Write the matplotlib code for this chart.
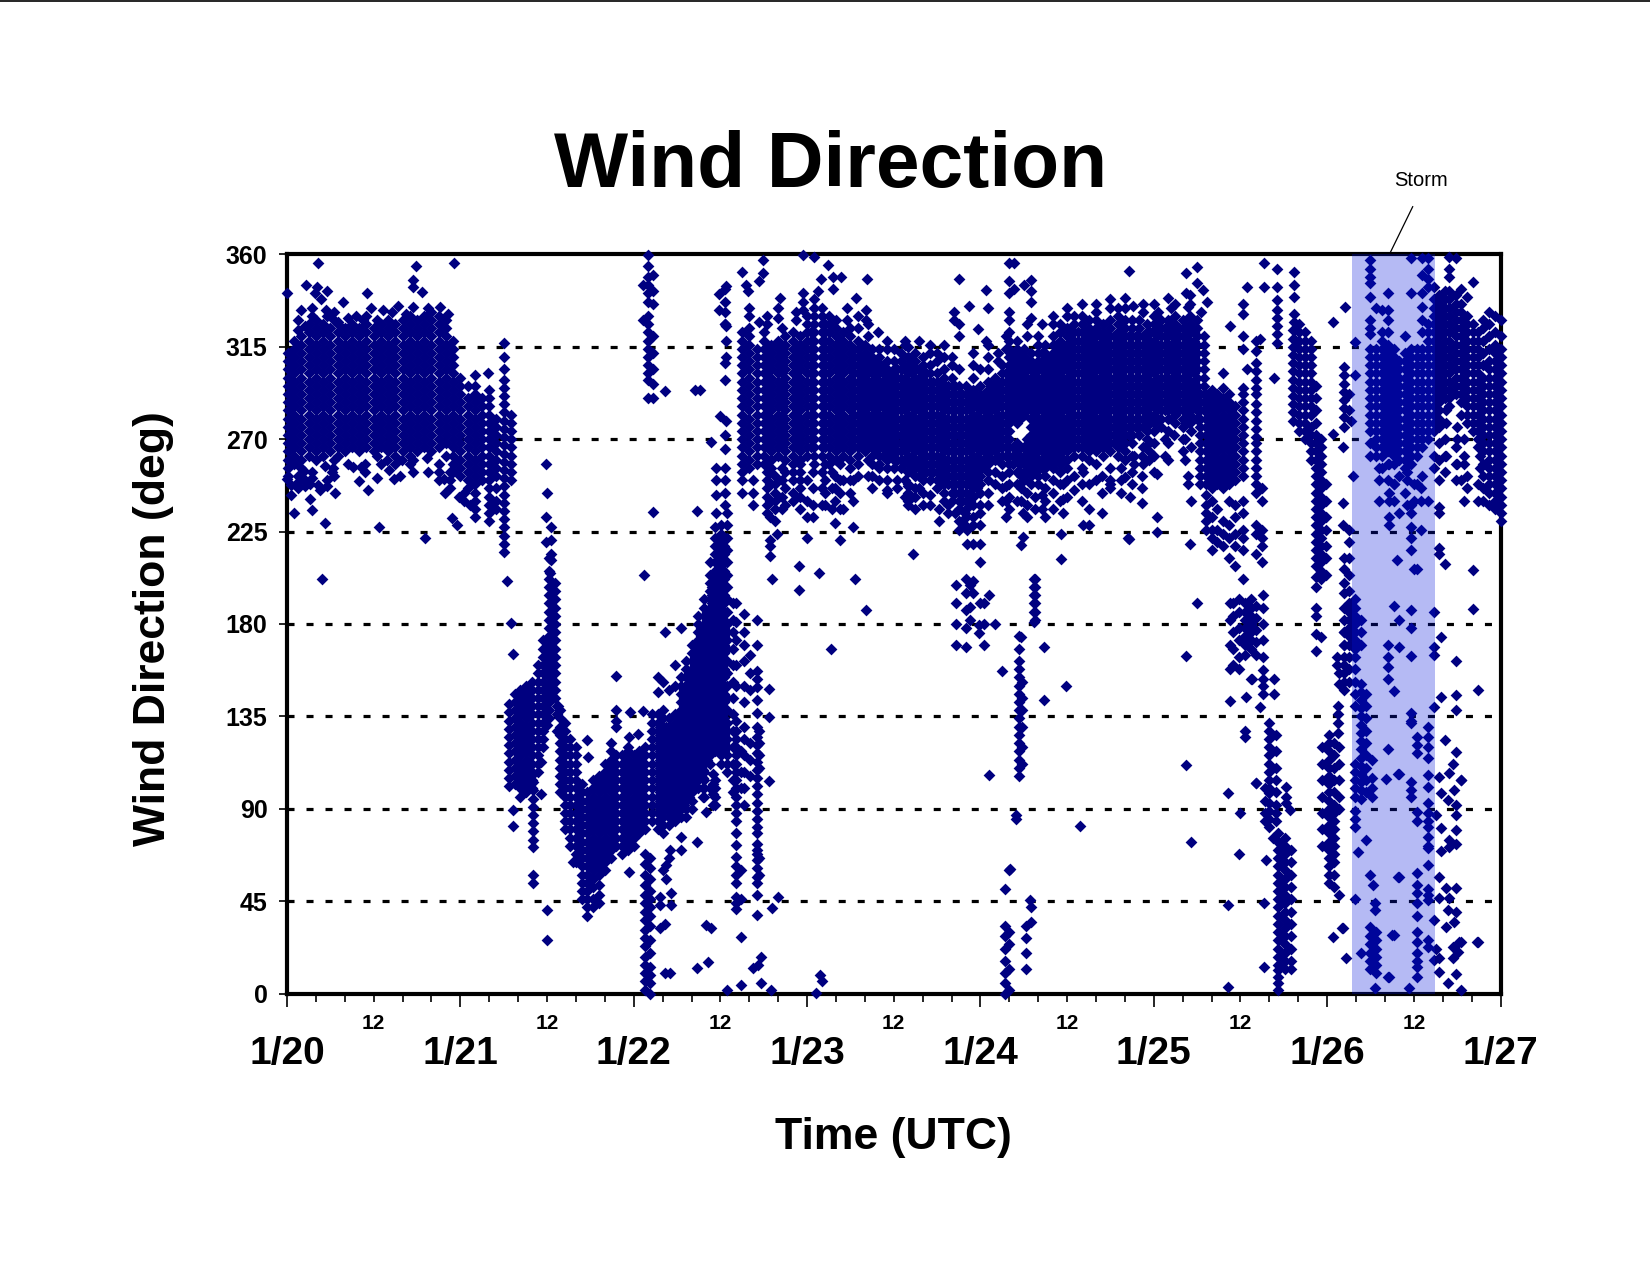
import matplotlib
matplotlib.use("Agg")
import matplotlib.pyplot as plt
from matplotlib.lines import Line2D

plt.rcParams['font.family'] = ['Liberation Sans', 'DejaVu Sans']

W, H = 1650, 1275

# every row: (hours after 1/20 00 UTC, [wind directions in degrees read at that time])
core_jan20 = [
 (0.2,[252,256,260,264,268,272,276,280,284,288,292,296,300,304,308,312]),
 (1,[258,262,266,270,274,278,282,286,290,294,298,302,306,310,314,318]),
 (2,[256,260,264,268,272,276,280,284,288,292,296,300,304,308,312,316,320]),
 (3,[262,266,270,274,278,282,286,290,294,298,302,306,310,314,318,322,326]),
 (4,[260,264,268,272,276,280,284,288,292,296,300,304,308,312,316,320,324,328]),
 (5,[262,266,270,274,278,282,286,290,294,298,302,306,310,314,318,322,326]),
 (6,[264,268,272,276,280,284,288,292,296,300,304,308,312,316,320,324]),
 (7,[262,266,270,274,278,282,286,290,294,298,302,306,310,314,318,322,326]),
 (8,[264,268,272,276,280,284,288,292,296,300,304,308,312,316,320,324]),
 (9,[266,270,274,278,282,286,290,294,298,302,306,310,314,318,322,326]),
 (10,[264,268,272,276,280,284,288,292,296,300,304,308,312,316,320,324]),
 (11,[266,270,274,278,282,286,290,294,298,302,306,310,314,318,322,326,330]),
 (12,[264,268,272,276,280,284,288,292,296,300,304,308,312,316,320,324]),
 (13,[266,270,274,278,282,286,290,294,298,302,306,310,314,318,322,326]),
 (14,[264,268,272,276,280,284,288,292,296,300,304,308,312,316,320,324,328]),
 (15,[266,270,274,278,282,286,290,294,298,302,306,310,314,318,322,326]),
 (16,[264,268,272,276,280,284,288,292,296,300,304,308,312,316,320,324,328]),
 (17,[262,266,270,274,278,282,286,290,294,298,302,306,310,314,318,322,326,330]),
 (18,[264,268,272,276,280,284,288,292,296,300,304,308,312,316,320,324,328]),
 (19,[266,270,274,278,282,286,290,294,298,302,306,310,314,318,322,326,330]),
 (20,[264,268,272,276,280,284,288,292,296,300,304,308,312,316,320,324,328,332]),
 (21,[266,270,274,278,282,286,290,294,298,302,306,310,314,318,322,326,330]),
 (22,[262,268,272,276,280,284,288,292,296,300,304,308,312,316,320,324,328]),
 (23,[254,258,262,266,270,274,278,282,286,290,294,298,302,306,310,314,318]),
 (24,[252,256,260,264,268,272,276,280,284,288,292,296,300]),
 (25,[246,250,254,258,262,266,270,274,278,282,286,290,296]),
 (26,[232,236,240,244,248,252,256,260,264,268,272,276,280,284,288,292,296,301]),
 (27,[250,254,258,262,266,270,274,278,282,286,290]),
 (28,[230,234,238,242,246,250,254,258,262,266,270,274,278,282,286,290,294]),
 (29,[236,240,246,252,256,260,264,268,272,276,280]),
 (30,[215,219,223,227,231,235,239,243,247,251,255,259,263,267,271,275,279,283,287,291,295,299,304]),
 (31,[250,254,258,262,266,270,274,278,282]),
]
stray_jan20 = [
 (4.3,[356]),(17.8,[354.5]),(23.1,[356]),(0,[341,250.4]),(2.6,[345]),(4.2,[344]),(3.9,[341]),(5.5,[342]),(4.7,[338]),
 (1.9,[333]),(7.7,[337]),(11.1,[341]),(17.5,[347.5,344,334.5]),(18.7,[341.5]),(9.6,[330]),(11.6,[334]),(13.3,[333]),
 (15.3,[335]),(21.2,[334.5]),(22.3,[331]),(5.4,[333]),(7.1,[327]),(2.3,[254.7]),(0.6,[247.7,243]),(3.2,[248,240.7]),
 (4.3,[247.7]),(4.5,[245]),(6.6,[244]),(3.4,[235.5]),(0.9,[234]),(5.3,[229,257]),(12.8,[227]),(19.1,[221.7]),(4.8,[202]),
 (11.2,[245]),(9.9,[249.8]),(12.5,[251,262]),(14.8,[250.6]),(15.7,[252]),(9.2,[256.6]),(10.2,[256.6]),(13.8,[265.5]),
 (13.9,[260]),(14.1,[255]),(15.9,[260]),(17,[258]),(19.4,[260.7]),(21.8,[250.6]),(21.9,[243.6]),(23.8,[242]),(22.8,[231.4]),
 (23.5,[228]),(6.4,[256]),(6.2,[254]),(30,[316.7,310]),(27.8,[302]),(30.4,[201]),(31,[180.3]),(28.2,[238]),(25.4,[238]),
]
edge_jan20 = [
 (1.5,[323,328,252,249,246]),(2.5,[325,250,247]),(3.5,[330,334,254,251]),(6.5,[328,332,260,252]),(8.5,[329,258]),
 (12.5,[328]),(14.5,[332]),(16.5,[331]),(19.5,[334,254]),(5.5,[330,250,247]),(10.5,[328]),(10.8,[258,254]),(13,[258]),
 (15,[258,262]),(17.5,[254,260]),(21,[258,254,250]),(22.5,[250,254,246]),(24.5,[244,240]),
]
clouds_jan21 = [
 (30.7,[101,105,109,113,117,121,125,129,133,137,141]),
 (31.5,[102,106,110,114,118,122,126,130,134,138,142,146]),
 (32.3,[96,100,104,108,112,116,120,124,128,132,136,140,144,148]),
 (33.1,[98,102,106,110,114,118,122,126,130,134,138,142,146,150]),
 (33.9,[100,104,108,112,116,120,124,128,132,136,140,144,148,152]),
 (34.7,[108,112,116,120,124,128,132,136,140,144,148,152,156,160]),
 (35.5,[120,124,128,132,136,140,144,148,152,156,160,164,168,172]),
 (36.3,[134,138,142,146,150,154,158,162,166,170,174,178,182,186,190,194,198,202,206,212]),
 (37.1,[144,148,152,156,160,164,168,172,176,180,184,188,192,196,200]),
 (37.8,[98,102,106,110,114,118,122,126,130,134,138]),
 (38.5,[80,84,88,92,96,100,104,108,112,116,120,124,128,132]),
 (39.2,[72,76,80,84,88,92,96,100,104,108,112,116,120,124]),
 (40,[64,68,72,76,80,84,88,92,96,100,104,108,112,116,120]),
 (40.8,[46,50,54,58,62,66,70,74,78,82,86,90,94,98,102]),
 (41.6,[38,42,46,50,54,58,62,66,70,74,78,82,86,90,94,98]),
 (42.4,[42,46,52,56,60,64,68,72,76,80,84,88,92,96,100,104]),
 (43.2,[44,48,53,58,62,66,70,74,78,82,86,90,94,98,102,106]),
 (44,[60,64,68,72,76,80,84,88,92,96,100,104,108,112]),
 (44.8,[66,70,74,78,82,86,90,94,98,102,106,110,114,118,122]),
 (45.6,[72,76,80,84,88,92,96,100,104,108,112,116]),
 (46.4,[68,72,76,80,84,88,92,96,100,104,108,112,116]),
 (47.2,[70,74,78,82,86,90,94,98,102,106,110,114,118]),
 (48,[72,76,80,84,88,92,96,100,104,108,112,116]),
 (48.8,[78,82,86,90,94,98,102,106,110,114,118]),
 (49.5,[80,84,88,92,96,100,104,108,112,116,120]),
]
stray_jan21 = [
 (31.3,[165.4,89.5,81.7]),(34,[107,103,99,95,91,87,83,79,75,71.6,57.8,53.8]),(35.2,[113,97]),(36,[40.8,26,131]),(37.5,[140]),
 (41.5,[123.6]),(41.7,[115.4]),(45.5,[154.7,138,133,130]),(47.4,[125,59.4]),(48.6,[126.5]),(47.2,[120]),(49.3,[137.4]),(39.6,[64.3]),
 (35.9,[258]),(36,[243.6]),(35.8,[232,220]),(36.5,[227.4,221]),(36.6,[214,211]),(36.4,[204.6]),(37.4,[140,136,128]),(49.4,[204]),
 (50.7,[234.4]),(52.4,[176,293.6]),(54.6,[178]),
 (49.5,[2,6,10,14,18,23,27,31,36,40,44,48,53,58,63,68]),(50.3,[0,5,9,13,20,26,33,38,42,46,50,56,61,66]),
 (50,[359.7,354.5,349,345,341,337,330,326,322,318,314,310,306,302,299,290]),(49.3,[345,328]),(50.7,[350,342,336,320,312,304,297,290]),
]
plume_jan22 = [
 (50.5,[84,88,92,96,100,104,108,112,116,120,124,128,132,136]),
 (51.3,[80,84,88,92,96,100,104,108,112,116,120,124,128,132,136,147,154]),
 (52.1,[78,82,86,90,94,98,102,106,110,114,118,122,126,130,134,138,152]),
 (52.9,[82,86,90,94,98,102,106,110,114,118,122,126,130,134,148]),
 (53.7,[84,88,92,96,100,104,108,112,116,120,124,128,132,136,150,160]),
 (54.5,[86,90,94,98,102,106,110,114,118,122,126,130,134,138,142,146,150,154]),
 (55.3,[86,90,94,98,102,106,110,114,118,122,126,130,134,138,142,146,150,154,158,162]),
 (56.1,[90,94,98,102,106,110,114,118,122,126,130,134,138,142,146,150,154,158,162,166,170]),
 (56.9,[100,104,108,112,116,120,124,128,132,136,140,144,148,152,156,160,164,168,172,176,180,184]),
 (57.7,[96,100,104,108,112,116,120,124,128,132,136,140,144,148,152,156,160,164,168,172,176,180,184,188,192]),
 (58.5,[100,112,116,120,124,128,132,136,140,144,148,152,156,160,164,168,172,176,180,184,188,192,196,200,204,210]),
 (59.3,[92,96,100,104,118,122,126,130,134,138,142,146,150,154,158,162,166,170,174,178,182,186,190,194,198,202,206,210,214,218,222,227]),
 (60.1,[112,116,120,124,128,132,136,140,144,148,152,156,160,164,168,172,176,180,184,188,192,196,200,204,208,212,216,220,224,228]),
 (60.9,[108,112,116,120,124,128,132,138,144,150,156,162,168,172,176,180,186,192,198,204,210,216,222,228,234]),
 (61.7,[190,182,176,168,160,152,144,136,128,120,112,104,98]),
 (62.2,[84,88,92,96,100,104,108,112,116,120,124,128,133,78,72.4,66.7,62,58,54,47,44,41,150,160,172,181,190]),
 (63.3,[185,176,170,162,150,142,130,124,116,108,100,92]),
 (64.1,[165,156,148,122,114,106]),
 (65,[81,85,89,93,97,101,105,109,113,117,121,125,130,136.5,143,149.5,153,157,78,73,70,68,65,61,57,54,48,38.3,170,182]),
 (65.4,[110,116,122,128,66,58]),
 (62.8,[100,108,118,60,46]),
]
fill_jan22 = [
 (51.7,[90,94,98,102,106,110,114,118,122,126,130]),(52.5,[90,94,98,102,106,110,114,118,122,126,130]),
 (53.3,[92,96,100,104,108,112,116,120,124,128]),(54.1,[92,96,100,104,108,112,116,120,124,128,132]),
 (54.9,[92,96,100,104,108,112,116,120,124,128,132,136,140,144,148]),(55.7,[96,100,104,108,112,116,120,124,128,132,136,140,144,148,152,156]),
 (56.5,[104,108,112,116,120,124,128,132,136,140,144,148,152,156,160,164]),(57.3,[106,110,114,118,122,126,130,134,138,142,146,150,154,158,162,166,170,174,178]),
 (58.1,[114,118,122,126,130,134,138,142,146,150,154,158,162,166,170,174,178,182,186]),(58.9,[122,126,130,134,138,142,146,150,154,158,162,166,170,174,178,182,186,190,194,198]),
 (59.7,[122,126,130,134,138,142,146,150,154,158,162,166,170,174,178,182,186,190,194,198,202,206,210,214,218]),
 (60.5,[118,122,126,130,134,138,142,146,150,154,158,162,166,170,174,178,182,186,190,194,198,202,206,210,214,218]),
]
stray_jan22 = [
 (51.6,[47,43,32]),(53.2,[49,43]),(52.3,[34,10]),(53,[10,70]),(52.5,[62.7,56]),(52.9,[66]),(52,[60]),(54.6,[70,76.5]),(56.8,[74,12.4]),
 (58,[88.6,33.5]),(58.7,[32]),(58.3,[15.6]),(60.9,[2]),(62.9,[4.2,27.8]),(64.5,[12.4]),(65.6,[18,5.4]),(65.2,[14]),(67,[2]),
 (73.8,[9]),(74.1,[6]),(73.3,[0.5]),(75.3,[168]),(66.7,[148.4,134.9,103.7]),(68,[47]),(67.2,[41.6]),(47.5,[137]),
 (57.6,[117,113,109,105,100,96]),(59,[107,102,97,92]),(56.5,[294]),(57.2,[294]),(60,[281.5]),(60.8,[279,344.6,325,318,310]),
 (58.7,[268.7]),(59.4,[256,250,243,234]),(60.6,[256,250,244,238,307,299,272,265]),(56.8,[235]),(59.8,[340.5,333]),
 (60.6,[343,337,332,326]),(63,[351.6]),(65.9,[357,351]),(65.4,[347,327]),(63.5,[345]),(63.8,[342]),(68.2,[338.6]),(68,[334,329]),
 (71.4,[359.7,341,337,333]),(73,[358.5]),(74.9,[355]),(73.9,[348]),(75.6,[349,343]),(76.7,[349]),(80.3,[348]),(78.8,[338.6]),
 (73.5,[342]),(80.2,[333,328]),(81.8,[322]),(64,[334,330]),(66.8,[221,232,240,248,254]),(67.8,[224]),(66.9,[213,218]),(70.9,[208,196.5]),
 (73.7,[205]),(67.2,[202]),(78.6,[201.7]),(80.1,[186.8]),(86.6,[214]),(76.5,[221]),(72,[222,232,240,250]),(78.4,[227.4,240,250]),
 (75.8,[229,240,246,252]),(74,[238,246,254]),(69,[238,246,254]),(71,[246,254]),(77,[236,250]),(64.5,[238,244,250]),(63,[244,250]),
 (82,[256,250]),(83,[245]),(85.5,[250,242]),(89,[243,238]),(90.2,[236,230]),(91,[240]),(86,[240,247]),(87.5,[252,246]),
]
core_jan22_24 = [
 (63,[254,258,262,266,270,274,278,282,286,290,294,298,302,306,310,314,318,322]),
 (64,[256,260,264,268,272,276,280,284,288,292,296,300,304,308,312,316,320,324]),
 (65.1,[258,262,266,270,274,278,282,286,290,294,298,302,306,310,314]),
 (66,[258,262,266,270,274,278,282,286,290,294,298,302,306,310,314,318,322]),
 (67,[256,260,264,268,272,276,280,284,288,292,296,300,304,308,312,316]),
 (68,[262,266,270,274,278,282,286,290,294,298,302,306,310,314,318]),
 (69,[260,264,268,272,276,280,284,288,292,296,300,304,308,312,316,320]),
 (70,[258,262,266,270,274,278,282,286,290,294,298,302,306,310,314,318,322]),
 (71,[260,264,268,272,276,280,284,288,292,296,300,304,308,312,316,320]),
 (72,[262,266,270,274,278,282,286,290,294,298,302,306,310,314,318,322,326,330]),
 (73,[258,262,266,270,274,278,282,286,290,294,298,302,306,310,314,318,322,326,330,334,338]),
 (74,[262,266,270,274,278,282,286,290,294,298,302,306,310,314,318,322,326,330,334]),
 (75,[258,262,266,270,274,278,282,286,290,294,298,302,306,310,314,318,322,326,330]),
 (76,[260,264,268,272,276,280,284,288,292,296,300,304,308,312,316,320,324,328]),
 (77,[262,266,270,274,278,282,286,290,294,298,302,306,310,314,318,322]),
 (78,[260,264,268,272,276,280,284,288,292,296,300,304,308,312,316,320,324]),
 (79,[262,266,270,274,278,282,286,290,294,298,302,306,310,314,318]),
 (80,[264,268,272,276,280,284,288,292,296,300,304,308,312,316]),
 (81,[258,262,266,270,274,278,282,286,290,294,298,302,306,310,314]),
 (82,[258,262,266,270,274,278,282,286,290,294,298,302,306,310,314]),
 (83,[256,260,264,268,272,276,280,284,288,292,296,300,304,308]),
 (84,[256,260,264,268,272,276,280,284,288,292,296,300,304,308]),
 (85,[256,260,264,268,272,276,280,284,288,292,296,300,304,308,312]),
 (86,[254,258,262,266,270,274,278,282,286,290,294,298,302,306,310]),
 (87,[252,256,260,264,268,272,276,280,284,288,292,296,300,304,308,312]),
 (88,[250,254,258,262,266,270,274,278,282,286,290,294,298,302,306,310]),
 (89,[250,254,258,262,266,270,274,278,282,286,290,294,298,302,306]),
 (90,[246,250,254,258,262,266,270,274,278,282,286,290,294,298,302]),
 (91,[244,248,252,256,260,264,268,272,276,280,284,288,292,296,300,304]),
 (92,[240,244,248,252,256,260,264,268,272,276,280,284,288,292,296,300]),
 (93,[236,240,244,248,252,256,260,264,268,272,276,280,284,288,292,296,304]),
 (94,[232,236,240,244,248,252,256,260,264,268,272,276,280,284,288,292,296]),
 (95,[238,242,246,250,254,258,262,266,270,274,278,282,286,290,294,300]),
 (96,[244,248,252,256,260,264,268,272,276,280,284,288,292,296,304]),
 (97,[254,258,262,266,270,274,278,282,286,290,294,298]),
 (98,[260,264,268,272,276,280,284,288,292,296,300]),
 (99,[258,262,266,270,274,278,282,286,290,294,298,302,306]),
 (100,[254,258,262,266,270,274,278,282,286,290,294,298,302,306,310,314,318,322]),
 (101,[260,264,268,278,282,286,290,294,298,302,306,310,314,318]),
 (102,[250,254,258,262,266,282,286,290,294,298,302,306,310,314]),
 (103,[248,252,256,260,264,268,272,276,280,284,288,292,296,300,304,308,312]),
 (104,[248,252,256,260,264,268,272,276,280,284,288,292,296,300,304,308,312,316,320]),
 (105,[252,256,260,264,268,272,276,280,284,288,292,296,300,304,308,312,316]),
 (106,[256,260,264,268,272,276,280,284,288,292,296,300,304,308,312,316,320]),
 (107,[254,258,262,266,270,274,278,282,286,290,294,298,302,306,310,314,318,322,326]),
 (108,[256,260,264,268,272,276,280,284,288,292,296,300,304,308,312,316,320,324]),
 (109,[262,266,270,274,278,282,286,290,294,298,302,306,310,314,318,322,326,330]),
 (110,[262,266,270,274,278,282,286,290,294,298,302,306,310,314,318,322,326,330]),
 (111,[260,264,268,272,276,280,284,288,292,296,300,304,308,312,316,320,324,328]),
 (112,[264,268,272,276,280,284,288,292,296,300,304,308,312,316,320,324,328,332]),
 (113,[262,266,270,274,278,282,286,290,294,298,302,306,310,314,318,322,326]),
 (114,[264,268,272,276,280,284,288,292,296,300,304,308,312,316,320,324,328]),
 (115,[262,266,270,274,278,282,286,290,294,298,302,306,310,314,318,322,326,330,334]),
 (116,[260,264,268,272,276,280,284,288,292,296,300,304,308,312,316,320,324,328]),
 (117,[268,272,276,280,284,288,292,296,300,304,308,312,316,320,324,328]),
 (118,[272,276,280,284,288,292,296,300,304,308,312,316,320,324,328]),
 (119,[270,274,278,282,286,290,294,298,302,306,310,314,318,322,326]),
 (120,[274,278,282,286,290,294,298,302,306,310,314,318,322,326,330]),
 (121,[276,280,284,288,292,296,300,304,308,312,316,320,324,328]),
 (122,[280,284,288,292,296,300,304,308,312,316,320,324,328]),
 (123,[278,282,286,290,294,298,302,306,310,314,318,322,326,330]),
 (124,[276,280,284,288,292,296,300,304,308,312,316,320,324,328]),
 (125,[278,282,286,290,294,298,302,306,310,314,318,322,326,330]),
 (126,[280,284,288,292,296,300,304,308,312,316,320,324,328]),
 (127,[284,288,292,296,300,304,308,312,316,320]),
]
fill_jan23 = [
 (66.5,[266,270,274,278,282,286,290,294,298,302,306,310,314]),(68.5,[266,270,274,278,282,286,290,294,298,302,306,310,314]),
 (70.5,[266,270,274,278,282,286,290,294,298,302,306,310,314]),(72.5,[266,270,274,278,282,286,290,294,298,302,306,310,314,318,322]),
 (74.5,[266,270,274,278,282,286,290,294,298,302,306,310,314,318,322,326]),(76.5,[266,270,274,278,282,286,290,294,298,302,306,310,314,318]),
 (78.5,[266,270,274,278,282,286,290,294,298,302,306,310,314]),(79.5,[266,270,274,278,282,286,290,294,298,302,306,310]),
 (80.5,[266,270,274,278,282,286,290,294,298,302,306,310]),(81.5,[264,268,272,276,280,284,288,292,296,300,304,308]),
 (82.5,[262,266,270,274,278,282,286,290,294,298,302,306]),(83.5,[262,266,270,274,278,282,286,290,294,298,302]),
 (84.5,[260,264,268,272,276,280,284,288,292,296,300,304]),(85.5,[260,264,268,272,276,280,284,288,292,296,300,304]),
 (86.5,[258,262,266,270,274,278,282,286,290,294,298,302,306]),(87.5,[256,260,264,268,272,276,280,284,288,292,296,300,304]),
 (88.5,[254,258,262,266,270,274,278,282,286,290,294,298,302]),(89.5,[254,258,262,266,270,274,278,282,286,290,294,298]),
 (90.5,[250,254,258,262,266,270,274,278,282,286,290,294,298]),(91.5,[248,252,256,260,264,268,272,276,280,284,288,292,296]),
 (92.5,[244,248,252,256,260,264,268,272,276,280,284,288,292,296]),(93.5,[240,244,248,252,256,260,264,268,272,276,280,284,288,292]),
 (94.5,[240,244,248,252,256,260,264,268,272,276,280,284,288,292]),(95.5,[246,250,254,258,262,266,270,274,278,282,286,290]),
 (96.5,[256,260,264,268,272,276,280,284,288,292]),(97.5,[260,264,268,272,276,280,284,288,292,296]),
 (98.5,[262,266,270,274,278,282,286,290,294,298]),(99.5,[262,266,270,274,278,282,286,290,294,298,302]),
 (100.5,[258,262,266,280,284,288,292,296,300,304,308,312]),(101.5,[254,258,262,280,284,288,292,296,300,304,308,312]),
 (102.5,[254,258,262,266,270,284,288,292,296,300,304,308]),(103.5,[254,258,262,266,270,274,278,282,286,290,294,298,302,306]),
 (104.5,[256,260,264,268,272,276,280,284,288,292,296,300,304,308,312]),(105.5,[258,262,266,270,274,278,282,286,290,294,298,302,306,310]),
 (106.5,[260,264,268,272,276,280,284,288,292,296,300,304,308,312,316]),(107.5,[260,264,268,272,276,280,284,288,292,296,300,304,308,312,316]),
 (108.5,[266,270,274,278,282,286,290,294,298,302,306,310,314,318,322]),(109.5,[266,270,274,278,282,286,290,294,298,302,306,310,314,318,322]),
 (110.5,[266,270,274,278,282,286,290,294,298,302,306,310,314,318,322]),(111.5,[266,270,274,278,282,286,290,294,298,302,306,310,314,318,322]),
 (112.5,[268,272,276,280,284,288,292,296,300,304,308,312,316,320]),(113.5,[268,272,276,280,284,288,292,296,300,304,308,312,316,320]),
 (114.5,[268,272,276,280,284,288,292,296,300,304,308,312,316,320]),(115.5,[266,270,274,278,282,286,290,294,298,302,306,310,314,318,322]),
 (116.5,[272,276,280,284,288,292,296,300,304,308,312,316,320]),(117.5,[276,280,284,288,292,296,300,304,308,312,316,320]),
 (118.5,[276,280,284,288,292,296,300,304,308,312,316,320]),(119.5,[278,282,286,290,294,298,302,306,310,314,318,322]),
 (120.5,[280,284,288,292,296,300,304,308,312,316,320,324]),(121.5,[284,288,292,296,300,304,308,312,316,320,324]),
 (122.5,[284,288,292,296,300,304,308,312,316,320,324]),(123.5,[284,288,292,296,300,304,308,312,316,320,324]),
 (124.5,[284,288,292,296,300,304,308,312,316,320,324]),(125.5,[286,290,294,298,302,306,310,314,318,322]),
]
edge_jan22_24 = [
 (66.5,[254,250,246,242,238,234,326,330]),(67.5,[252,248,244,240,236,230]),(68.5,[256,250,242,236,324]),(70,[254,250,244,240]),
 (71,[258,250,242,236]),(72.8,[254,246,238,232]),(74.5,[258,250,244,238]),(75.5,[254,246,236]),(76.5,[258,250,244,236]),(78,[256,250,244]),
 (79,[258,252,324,330]),(80.5,[260,252,320,326]),(70.5,[328,332]),(77.5,[328,334]),(83,[314,318,250,244]),(85.5,[318,316]),(87.5,[318]),
 (89,[312,316]),(91,[310,316]),(92,[306,310]),(95,[306,312,232,228]),(97,[304,310,316,250,244,238]),(98.5,[308,312]),(99.5,[314,320]),
 (81,[252,246]),(84.5,[250,246]),(86,[248,244,238]),(87,[246,242,236]),(88,[244,238]),(91.5,[238,234]),(92.5,[234]),(93,[230,226]),
 (96,[238,234]),(98,[254,248]),(99,[252,246,240]),(100,[248,242,236]),(101,[254,248,240]),(102.5,[244,238,232,320,326]),(103.5,[242,236]),
 (105,[246,240,232]),(106,[250,244,236,326,330]),(107,[248,240]),(108,[250,242,330,334]),(110,[256,248,240,336]),(112,[258,250,336]),
 (114,[256,248,334,338]),(115.5,[256,250,244]),(117,[262,254,248]),(118.5,[266,258,332,336]),(120,[268,262,254,336]),(122,[274,268,260]),
 (124,[270,264]),(104.5,[326]),(116,[334]),(123,[336]),(125,[336,340]),(126.5,[332]),
]
stray_jan23_25 = [
 (60.6,[326]),(93.1,[348,326,320]),(96.8,[342.6,318]),(94.4,[335]),(97,[334]),(92.4,[332,328]),(95.6,[323.5]),
 (100,[356,347,341,332,328]),(100.7,[356,343]),(103,[347.5,342,337,329]),(102,[345]),(90,[312,308]),(84,[314]),(86,[315]),
 (95,[219,201,195]),(94.1,[219,226]),(95.9,[210,190,219,228]),(94.5,[188.4,199]),(97.2,[194]),(94.6,[182]),(95.8,[179.5,175.8]),
 (93.9,[228,234]),(103.5,[201.7,198,194,190,186,182]),(101.6,[173.8,218.5,240,246,252]),(107.2,[211.5,224]),(116.4,[221.7]),
 (101.9,[222.5,234]),(99.5,[232,240,247]),(104.5,[236,243]),(107.5,[234,241,248]),(109,[245,252]),(111,[228,236,248]),(112.8,[234,244,252]),
 (114,[250,246]),(110.2,[228,254]),(100.1,[60.5]),(99.4,[50.8,33,28,22,16,10,5,0]),(99.9,[60,30,24,12,2]),(102.8,[45.6]),(102.3,[33,20,12,27]),
 (103,[42,35]),(101.3,[174,168,162,158,154,150,146,142,138,134,130,126,122,118,114,110,106]),(101.8,[152,144,138,130,120,112]),
 (100.9,[87,85]),(97.2,[106.7]),(109.8,[81.5]),(107.9,[150]),(104.8,[168.7,143]),(103.4,[202,198,194,190,186,181]),(92.6,[199,190,180,170]),
 (94,[202,195,187,178,169]),(96.5,[190,180,170]),(99,[157]),(98,[180]),(116.5,[352,221.6]),(124.5,[350.7,341,164.6,111.3]),(126,[354,346,190]),
 (126.8,[342.6]),(121.9,[338.9]),(124.7,[334.5,252,248]),(127.3,[337]),(117.1,[335]),(116,[338.5,251.7]),(120.6,[332]),(122.4,[333.7]),
 (124.3,[260,270,278,288]),(125.1,[240,74,266,274,284]),(118.3,[252,246,238.7,262]),(120.4,[253,232,224.6]),(116.7,[242]),(125,[219]),
 (119.4,[260,264,268]),(117.3,[258,262]),(121.6,[262,270]),(122.8,[272]),
]
cloud_jan25 = [
 (126.4,[248,252,256,260,264,268,272,276,280,284,288,292]),
 (127.2,[226,230,234,238,243,248,252,256,260,264,268,272,276,280,284,288,292]),
 (128,[216,222,226,232,240,246,250,254,258,262,266,270,274,278,282,286,290,294]),
 (128.8,[220,226,236,248,252,256,260,264,268,272,276,280,284,288,292]),
 (129.6,[218,224,230,246,250,254,258,262,266,270,274,278,282,286,290,295,302]),
 (130.4,[212,222,228,240,248,252,256,260,264,268,272,276,280,284,288,292]),
 (131.2,[208,218,224,232,238,250,254,258,262,266,270,274,278,282,286]),
 (132.4,[202,216,222,226,234,240,252,256,260,264,268,272,276,280,284,288,292,295,314,320,331,336]),
 (134.2,[243.6,248,252,256,260,264,268,271,275,279,283,287,292,295,299,303,307,313,318,228,224,214]),
 (135,[246,240,226,222,218,210]),
 (131,[160,168,176,184,190]),(131.8,[158,164,172,178,186,192]),(132.6,[165,170,174,178,182,186,190,128,125]),(133.4,[168,172,176,180,184,188,192,153]),
 (134.2,[165,171,177,183,189,102.4]),(135.1,[157.6,164,172,180,188,194,153,150,146]),
 (130.5,[325,142.5,158,170,182,190]),(132.9,[344,304]),(135.3,[356,344,44,13]),(137,[353,344,337.7,333,329,325,321,316.6]),
 (139.4,[351.5,345,339,331,327,323,319,315]),(134.7,[319,139.4]),(136.7,[300,153,146]),(133.6,[153]),(132.7,[144.3]),
 (136,[132,128,124,120,116,112,108,104,100,97.5,93,89,85,81]),(136.9,[126,118,110,104,98,92,88,84]),(135.4,[100,94,88,84]),
 (138.3,[100.8,96,92.7]),(138.8,[89.4]),(136.5,[75.6]),(135.6,[65]),(134.2,[102.4]),(130.3,[97.5,43,3.4]),(131.8,[67.8]),(132,[87.8]),
 (137.2,[78,74,70,66,62,58,54,50,46,42,38,34,30,26,22,18,14,11.5,8,5,1.8]),
 (138.1,[76,72,68,64,60,56,52,48,44,40,36,32,28,24,20,16,12]),
 (139,[70,64,58,52,46,40,34,28,22,16,12]),
 (139.3,[323,319,315,311,307,303,299,295,291,287,283,279]),
 (140.1,[326,322,318,314,310,306,302,298,294,290,286,282,278,274]),
 (140.9,[322,318,314,310,306,302,298,294,290,286,282,278,274,270]),
 (141.7,[318,314,310,306,302,298,294,290,286,282,276,272,268,264,260]),
 (142.4,[296,290,284,278,272,268,264,260,256,252,248,244,240,236,232,228,224,220,216,212,208,203,198,188,184,175,167]),
 (143.2,[270,266,262,258,254,250,246,242,238,234,230,226,222,218,214,210,206,202,173.8]),
 (143.8,[248,240,232,226,218,212,204]),
 (144.8,[327,272.4]),(146.5,[334.5]),(147.6,[252]),(146.2,[239,228,266,31.8]),(147.8,[317.4,301]),(147.3,[279]),
 (146.4,[305,301,297,293,289,285,281,276]),(147,[292,284]),(144.3,[126,122,118,114,110,106,102,98,94,90,86,82,78,74,70,66,62,58,54]),
 (145,[122,116,110,104,98,92,88,84,80,76,72,68,64,58,52]),(145.7,[120,112,104,96,90,48]),(144.8,[27.7]),(146,[31.8]),(146.6,[17.2]),
 (143.3,[120,112,104,96,88,80,72]),
 (145.3,[164,160]),(145.7,[151,156]),(145.5,[140,136,132,127]),
 (146.3,[148,152,156,160,164,170,176,182,188,195,200,207,212,170,176]),
 (147,[152,158,164,170,174,178,182,186,190,196,204,212,220,226]),
 (147.8,[112,108,104,100,96,140,146,152,158,164,168,172,176,180,184,188,192]),
 (148.7,[151,147,143,139,135,131,127,123,119,115,111,107,103,99,95,170,176,182]),
 (149.4,[146,140,134,128,122,116,110,104,98,75]),(150.2,[105,100,96,114]),(147.9,[89,85,81,46]),(148.3,[68.8]),
 (150,[57.8,32.6,28,24,20,16,12]),(150.4,[52.9]),(150.6,[44,40.7,2.6]),(150.8,[30,26,22,18,14,10]),(148.7,[20]),
]
storm_jan26 = [
 (149.9,[357,353,349,346,339,328,324,321,274,278,282,286,290,294,298,302,306,310,314]),
 (150.8,[333.7,262,266,270,274,278,282,286,290,294,298,302,306,310,314]),
 (151.6,[256,262,266,270,274,278,282,286,290,294,298,302,306,310,314,318,322,333]),
 (152.4,[341,333,328,322,250,258,264,268,272,276,280,284,288,292,296,300,304,308,312,316,170,164,159,153,119,8.2]),
 (153.2,[248,258,262,266,270,274,278,282,286,290,294,298,302,306,310,314,147.5,189,28.6]),
 (154,[252,260,264,268,272,276,280,284,288,292,296,300,304,308,169,182,57,107,234]),
 (154.8,[244,256,260,264,268,272,276,280,284,288,292,296,300,304,308,312,320]),
 (155.6,[341,358,258,262,266,270,274,278,282,286,290,294,298,302,306,310,314,227,222,216,238,234,187,164.6,178,136.5,133,131.6,103,99,96]),
 (156.4,[248,262,266,270,274,278,282,286,290,294,298,302,306,310,314,207,125,121,117,88.6,84,58.6,53,49,44,38,30,25,20,16,13,8.2]),
 (157.2,[341,334.5,358,350,252,266,270,274,278,282,286,290,294,298,302,306,310,314,322,328]),
 (158,[358,353,348,344,240,270,274,278,282,286,290,294,298,302,306,310,314,318,322,326,130,125,120,115,106.4,100.8,92.7,88,84,81,76.4,72,70.8,62.6,51,48,45.6,26,22.8]),
 (158.8,[344,338,334,330,326,322,318,314,310,306,302,298,294,290,286,282,278,274,262,256,186,169,165,35.8,16.4,139.4]),
 (159.5,[340,336,332,328,324,320,316,312,308,304,300,296,292,288,284,280,276,268,260,250,237,234,217,214,105.7,56.6,46.4,17.2,10.4]),
 (160.3,[342,338,334,330,326,322,318,314,310,306,302,298,294,290,270,262,254,209,123.5]),
 (160.9,[358.8,353,349,342,338,334,330,326,322,318,314,310,306,302,298,294,290,286,107.3,74.8,71.6,46.4]),
 (161.8,[358,340,336,332,328,324,320,316,312,308,304,300,296,292,266,258,250,162,145.4,138,117.8,91.9,87,79.7,73,51.3,39.9,9.5]),
 (162.6,[343,336,332,328,324,320,316,312,308,304,300,296,292,288,282,250,104,25,1.8]),
 (163.4,[339,330,326,322,318,314,310,306,302,298,294,290,286,282,278,252,246]),
 (164.2,[346.6,326,322,318,314,310,306,302,298,294,290,286,282,278,274,206.5,187.3]),
 (164.9,[322,318,314,310,306,302,298,294,290,286,282,278,274,270,266,248,240,148,25]),
 (165.6,[328,324,318,312,306,300,296,292,288,284,280,276,272,268,264,258,252,246,240]),
 (166.4,[332,326,320,314,308,304,300,296,292,288,284,280,276,272,268,264,260,256,252,248,244,238]),
 (167.2,[330,322,316,312,308,304,300,296,292,288,284,280,276,272,268,264,260,256,252,248,244,240,236]),
 (168,[328,320,314,310,306,302,298,294,290,286,282,278,274,270,266,262,258,254,250,246,242,238,234,230]),
]
stray_jan26 = [
 (159.1,[87,22]),(159.8,[173.8,144.6,97.5,80.5,69.6]),(161.6,[99.2,35]),(161.4,[112,22.9,17.2]),(162.5,[104]),(160.7,[94.3,40.7,5]),
 (160.5,[51.3,32.3]),(162.3,[25]),(162.1,[20.4]),(164.7,[25]),(153.8,[57,107]),(152.5,[8.2]),(153,[28.6]),(155.4,[2.6]),(152.2,[104.5]),
 (153.7,[211]),(155,[238]),(152.6,[228,232,240,244,258]),(151.2,[240,250,256]),(153.2,[240,248]),(156,[207,240,248]),(157,[240,226,246]),
 (163,[240,258,262,270]),(162,[258,270,276]),(160.5,[262,278,284]),(150,[262,268]),(155,[250,254]),(165.2,[256,262]),
]

groups = [core_jan20, stray_jan20, edge_jan20, clouds_jan21, stray_jan21, plume_jan22, fill_jan22, stray_jan22,
          core_jan22_24, fill_jan23, edge_jan22_24, stray_jan23_25, cloud_jan25, storm_jan26, stray_jan26]
hours, directions = [], []
for group in groups:
    for hour, values in group:
        for value in values:
            hours.append(hour)
            directions.append(value)

y_ticks = [0, 45, 90, 135, 180, 225, 270, 315, 360]
grid_levels = [45, 90, 135, 180, 225, 270, 315]
day_ticks = [0, 24, 48, 72, 96, 120, 144, 168]
day_labels = ['1/20', '1/21', '1/22', '1/23', '1/24', '1/25', '1/26', '1/27']
minor_ticks = [h for h in range(0, 169, 4) if h % 24 != 0]
minor_labels = ['12' if h % 24 == 12 else '' for h in minor_ticks]
storm_start, storm_end = 147.4, 158.9

fig = plt.figure(figsize=(W / 100, H / 100), dpi=100, facecolor='white')
L, R, T, B = 287, 1500.5, 254.3, 993.7
ax = fig.add_axes([L / W, 1 - B / H, (R - L) / W, (B - T) / H])
ax.set_xlim(0, 168)
ax.set_ylim(0, 360)

for level in grid_levels:
    ax.axhline(level, color='black', lw=2.3, ls=(0, (2.2, 3.75)), zorder=1)

ax.scatter(hours, directions, marker='D', s=36, color='#000080', linewidths=0, clip_on=False, zorder=5)
ax.axvspan(storm_start, storm_end, facecolor=(0, 20 / 255, 220 / 255), alpha=0.29, linewidth=0, zorder=6)

for side in ax.spines.values():
    side.set_linewidth(3.0)
    side.set_zorder(4)

ax.set_yticks(y_ticks)
ax.set_yticklabels([str(v) for v in y_ticks], fontsize=18, fontweight='bold')
ax.tick_params(axis='y', length=6, width=1.2, pad=8)
ax.set_xticks(day_ticks)
ax.set_xticklabels(day_labels, fontsize=28, fontweight='bold')
ax.set_xticks(minor_ticks, minor=True)
ax.set_xticklabels(minor_labels, minor=True, fontsize=15, fontweight='bold')
ax.tick_params(axis='x', which='major', length=9.5, width=1.2, pad=21)
ax.tick_params(axis='x', which='minor', length=6, width=1.2, pad=8.5)

def px(x, y):
    return x / W, 1 - y / H

fig.text(*px(831, 166), 'Wind Direction', fontsize=56.5, fontweight='bold', ha='center', va='center')
fig.text(*px(154, 629), 'Wind Direction (deg)', fontsize=32, fontweight='bold', rotation=90, ha='center', va='center')
fig.text(*px(893, 1137), 'Time (UTC)', fontsize=32, fontweight='bold', ha='center', va='center')
fig.text(*px(1421, 180), 'Storm', fontsize=14.5, ha='center', va='center')
x0, y0 = px(1412.7, 206.7)
x1, y1 = px(1390.7, 251.7)
fig.add_artist(Line2D([x0, x1], [y0, y1], color='black', lw=0.9))
fig.add_artist(Line2D([0, 1], [1 - 0.5 / H, 1 - 0.5 / H], color='black', lw=1.2))

fig.savefig('out.png', dpi=100)
